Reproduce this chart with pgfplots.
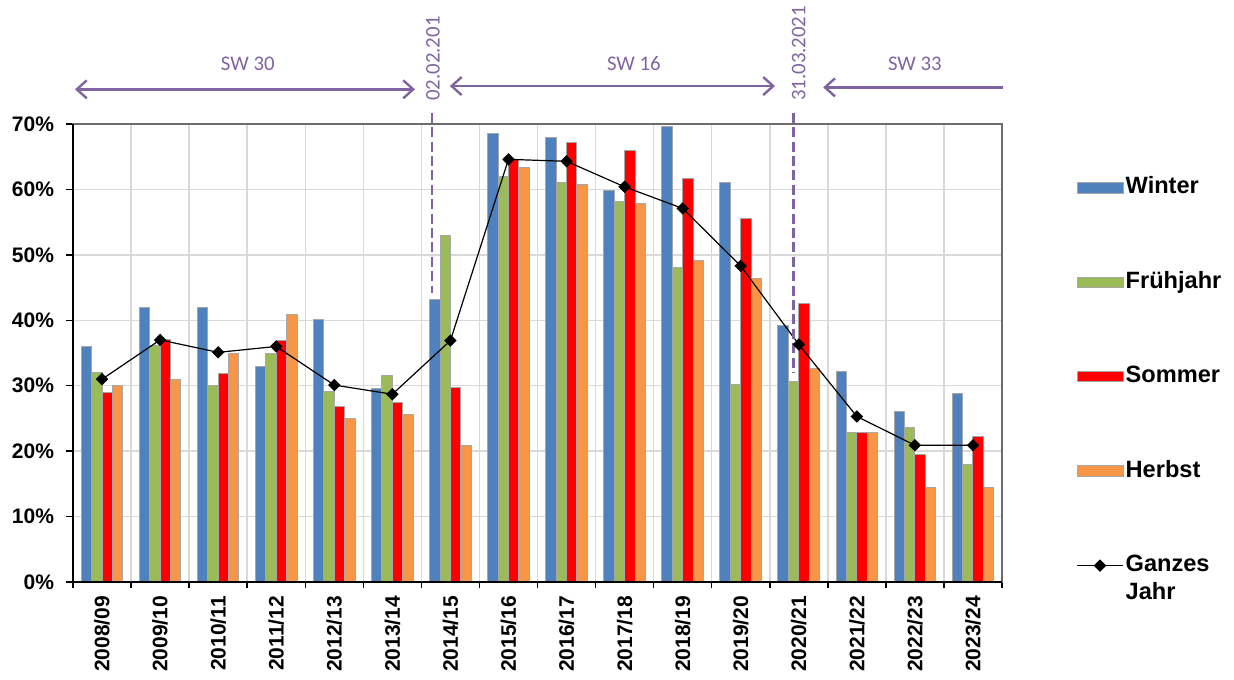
\documentclass[border=0pt]{standalone}
\usepackage{fontspec}
\setmainfont{Liberation Sans}
\newfontfamily\calib{Carlito}
\usepackage{pgfplots}
\usepackage{pgfplotstable}
\pgfplotsset{compat=1.18}
\usetikzlibrary{arrows.meta}

\definecolor{cWinter}{HTML}{4F81BD}
\definecolor{cFrueh}{HTML}{9BBB59}
\definecolor{cSommer}{HTML}{FF0000}
\definecolor{cHerbst}{HTML}{F79646}
\definecolor{purp}{HTML}{8064A2}
\definecolor{gridgray}{HTML}{D9D9D9}
\definecolor{baredge}{HTML}{A6A6A6}

% share of each season, per season year (in %)
\pgfplotstableread{
x  W     F     S     H     G
0  36.0  32.0  28.9  30.1  31.0
1  42.0  36.1  37.0  31.0  37.0
2  42.0  30.0  31.9  35.0  35.1
3  33.0  35.0  36.9  40.9  36.0
4  40.1  29.1  26.9  25.0  30.1
5  29.6  31.5  27.5  25.6  28.7
6  43.2  52.9  29.8  20.8  36.9
7  68.6  62.0  64.6  63.3  64.6
8  67.9  61.1  67.2  60.8  64.3
9  59.8  58.2  66.0  57.9  60.4
10 69.6  48.1  61.7  49.1  57.1
11 61.0  30.2  55.6  46.4  48.3
12 39.2  30.7  42.6  32.6  36.3
13 32.1  22.8  22.9  22.9  25.3
14 26.1  23.6  19.5  14.4  20.9
15 28.8  17.9  22.3  14.5  20.9
}\datatable

\pgfplotsset{
  seasonbar/.style={ybar, bar width=5.2pt, draw=baredge, line width=0.5pt,
    legend image code/.code={\draw[##1] (0pt,-2.6pt) rectangle (23pt,2.6pt);}},
  yearline/.style={black, line width=0.6pt, mark=square*, mark size=1.9pt,
    mark options={rotate=45, fill=black},
    legend image code/.code={\draw[mark repeat=2, mark phase=2, ##1]
      plot coordinates {(0pt,0pt) (11.5pt,0pt) (23pt,0pt)};}},
}

\begin{document}
\begin{tikzpicture}
\path[use as bounding box] (-36.5pt,-48.5pt) rectangle (580.5pt,291pt);
\begin{axis}[
  at={(0,0)}, anchor=south west,
  scale only axis, width=464.5pt, height=229pt,
  xmin=-0.5, xmax=15.5, ymin=0, ymax=70,
  clip=false,
  axis line style={draw=gray!85!black, line width=0.75pt},
  tick align=outside, tickpos=left,
  xtick={0,...,15},
  xticklabels={2008/09,2009/10,2010/11,2011/12,2012/13,2013/14,2014/15,2015/16,2016/17,2017/18,2018/19,2019/20,2020/21,2021/22,2022/23,2023/24},
  minor xtick={-0.5,0.5,1.5,2.5,3.5,4.5,5.5,6.5,7.5,8.5,9.5,10.5,11.5,12.5,13.5,14.5,15.5},
  major x tick style={draw=none},
  minor tick length=3pt, major tick length=3.5pt,
  tick style={black, line width=0.75pt},
  xminorgrids=true, ymajorgrids=true,
  grid style={draw=gridgray, line width=0.75pt},
  minor grid style={draw=gridgray, line width=0.75pt},
  ytick={0,10,...,70},
  yticklabel={\pgfmathprintnumber{\tick}\%},
  /pgf/number format/assume math mode=true,
  ticklabel style={font=\fontsize{10.5}{12}\selectfont\bfseries},
  yticklabel style={xshift=-2.5pt},
  xticklabel style={rotate=90, anchor=east},
  legend cell align=left,
  legend style={at={(rel axis cs:1.0797,0.89)}, anchor=north west,
    draw=none, fill=none, inner sep=0pt, row sep=34pt,
    font=\fontsize{11.8}{14}\selectfont\bfseries,
    nodes={inner sep=1pt, text height=8.6pt, text depth=2.6pt},
    /tikz/every even column/.append style={column sep=2.5pt}},
]
\addplot[seasonbar, bar shift=-7.8pt, fill=cWinter] table[x=x, y=W] {\datatable};
\addlegendentry{Winter}
\addplot[seasonbar, bar shift=-2.6pt, fill=cFrueh] table[x=x, y=F] {\datatable};
\addlegendentry{Frühjahr}
\addplot[seasonbar, bar shift=2.6pt, fill=cSommer] table[x=x, y=S] {\datatable};
\addlegendentry{Sommer}
\addplot[seasonbar, bar shift=7.8pt, fill=cHerbst] table[x=x, y=H] {\datatable};
\addlegendentry{Herbst}
\addplot[yearline] table[x=x, y=G] {\datatable};
\addlegendentry{\begin{tabular}[t]{@{}l@{}}Ganzes\\Jahr\end{tabular}}

% left and bottom axis in black
\draw[black, line width=0.9pt] (rel axis cs:0,1) -- (rel axis cs:0,0) -- (rel axis cs:1,0);

% change dates of the school system
\draw[purp, line width=1.1pt, dash pattern=on 5pt off 2.2pt]
  (axis cs:5.68,71.7) -- (axis cs:5.68,44.2);
\draw[purp, line width=1.1pt, dash pattern=on 5pt off 2.2pt]
  (axis cs:11.91,71.7) -- (axis cs:11.91,32.0);
\node[rotate=90, purp, font=\calib\fontsize{10.4}{12}\selectfont, inner sep=0pt]
  at (axis cs:5.70,80.0) {02.02.201};
\node[rotate=90, purp, font=\calib\fontsize{10.4}{12}\selectfont, inner sep=0pt]
  at (axis cs:12.0,80.8) {31.03.2021};

% periods
\draw[purp, line width=1.2pt,
  {Straight Barb[length=5pt,width=9pt]}-{Straight Barb[length=5pt,width=9pt]}]
  (axis cs:-0.466,75.3) -- (axis cs:5.39,75.3);
\draw[purp, line width=1.2pt,
  {Straight Barb[length=5pt,width=9pt]}-{Straight Barb[length=5pt,width=9pt]}]
  (axis cs:5.99,75.8) -- (axis cs:11.59,75.8);
\draw[purp, line width=1.2pt, {Straight Barb[length=5pt,width=9pt]}-]
  (axis cs:12.42,75.6) -- (axis cs:15.52,75.6);
\node[purp, font=\calib\fontsize{10.4}{12}\selectfont] at (axis cs:2.51,79.2) {SW 30};
\node[purp, font=\calib\fontsize{10.4}{12}\selectfont] at (axis cs:9.16,79.2) {SW 16};
\node[purp, font=\calib\fontsize{10.4}{12}\selectfont] at (axis cs:14.0,79.2) {SW 33};
\end{axis}
\end{tikzpicture}
\end{document}
